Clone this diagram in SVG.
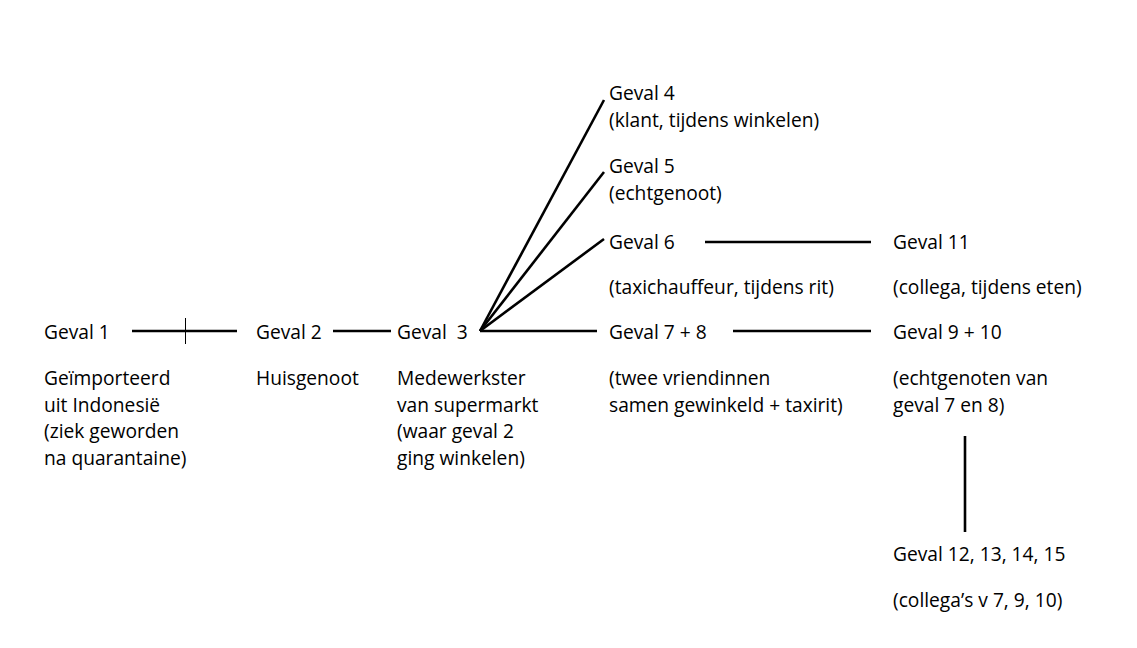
<svg xmlns="http://www.w3.org/2000/svg" width="1137" height="648" viewBox="0 0 1137 648">
<style>
text{font-family:"Open Sans","Liberation Sans",sans-serif;font-size:19.2px;fill:#000}
.c{stroke:#000;stroke-width:2.6;fill:none}
.t{stroke:#000;stroke-width:1;fill:none}
</style>
<rect width="1137" height="648" fill="#fff"/>
<g id="connectors">
<line class="c" x1="132" y1="331" x2="237" y2="331"/>
<line class="t" x1="185.5" y1="318" x2="185.5" y2="344"/>
<line class="c" x1="333" y1="331" x2="391" y2="331"/>
<line class="c" x1="480" y1="331" x2="597" y2="331"/>
<line class="c" x1="480" y1="331" x2="604" y2="100"/>
<line class="c" x1="480" y1="331" x2="604" y2="172"/>
<line class="c" x1="480" y1="331" x2="604" y2="239"/>
<line class="c" x1="705" y1="242" x2="871" y2="242"/>
<line class="c" x1="733" y1="331" x2="871" y2="331"/>
<line class="c" x1="965" y1="436" x2="965" y2="532"/>
</g>
<g id="geval1"><text x="44" y="339">Geval 1</text>
<text x="44" y="385">Geïmporteerd</text><text x="44" y="411.5">uit Indonesië</text><text x="44" y="438">(ziek geworden</text><text x="44" y="464.5">na quarantaine)</text></g>
<g id="geval2"><text x="256" y="339">Geval 2</text><text x="256" y="385">Huisgenoot</text></g>
<g id="geval3"><text x="397" y="339" xml:space="preserve">Geval  3</text>
<text x="397" y="385">Medewerkster</text><text x="397" y="411.5">van supermarkt</text><text x="397" y="438">(waar geval 2</text><text x="397" y="464.5">ging winkelen)</text></g>
<g id="geval4"><text x="609" y="100">Geval 4</text><text x="609" y="127">(klant, tijdens winkelen)</text></g>
<g id="geval5"><text x="609" y="173">Geval 5</text><text x="609" y="200">(echtgenoot)</text></g>
<g id="geval6"><text x="609" y="249">Geval 6</text><text x="609" y="294">(taxichauffeur, tijdens rit)</text></g>
<g id="geval78"><text x="609" y="339">Geval 7 + 8</text><text x="609" y="385">(twee vriendinnen</text><text x="609" y="411.5">samen gewinkeld + taxirit)</text></g>
<g id="geval11"><text x="893" y="249">Geval 11</text><text x="893" y="294">(collega, tijdens eten)</text></g>
<g id="geval910"><text x="893" y="339">Geval 9 + 10</text><text x="893" y="385">(echtgenoten van</text><text x="893" y="411.5">geval 7 en 8)</text></g>
<g id="geval12"><text x="893" y="561">Geval 12, 13, 14, 15</text><text x="893" y="607">(collega’s v 7, 9, 10)</text></g>
</svg>
